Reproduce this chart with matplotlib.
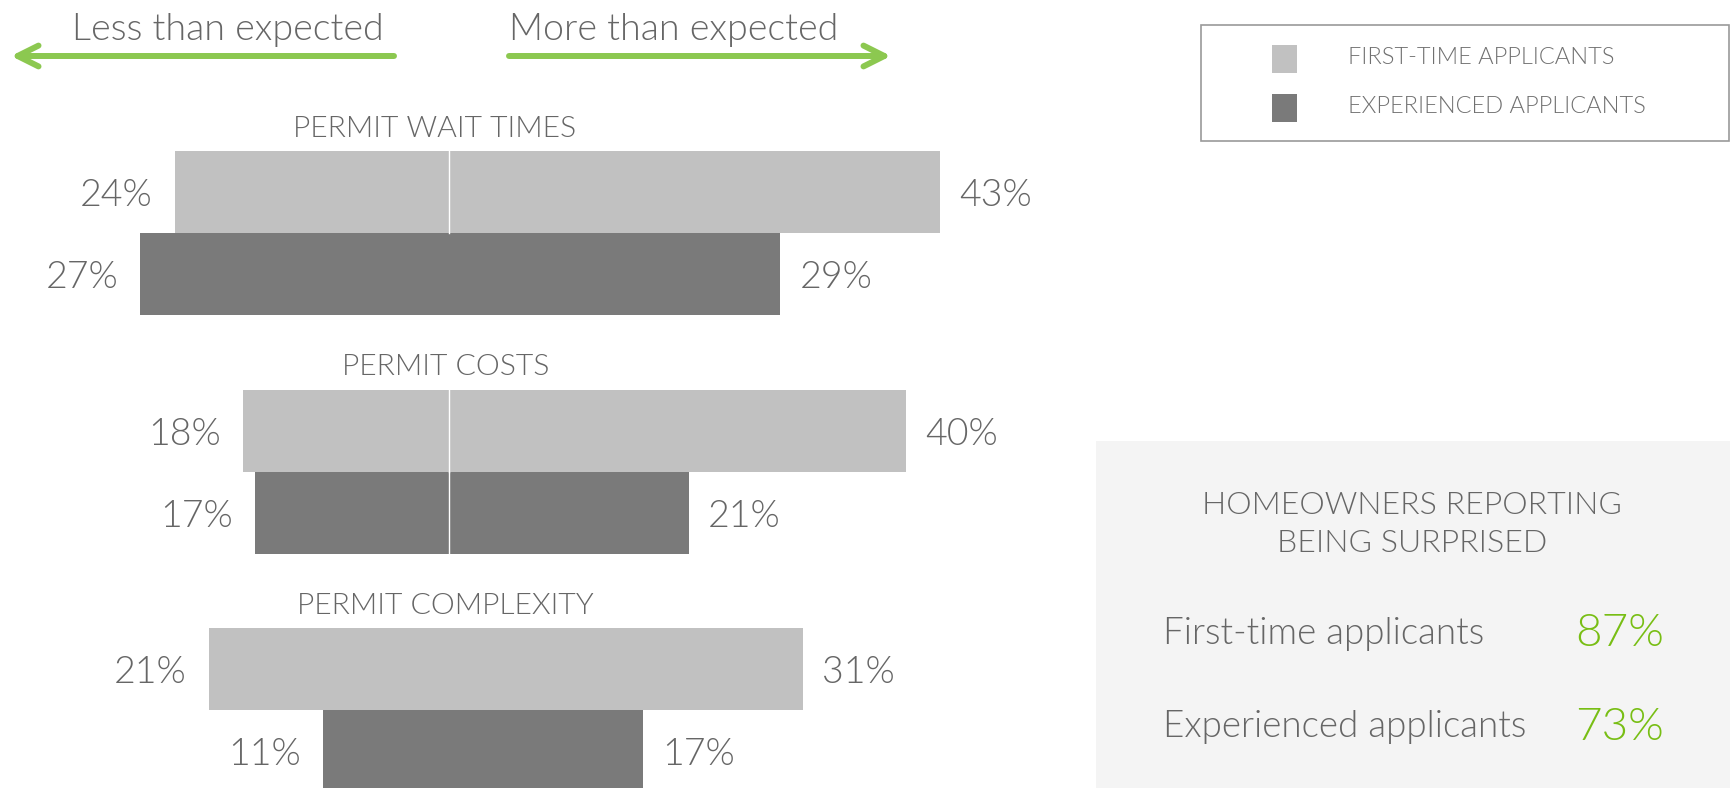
import matplotlib
matplotlib.use('Agg')
import matplotlib.pyplot as plt
from matplotlib.patches import Rectangle

# ---------------- data ----------------
categories = ['PERMIT WAIT TIMES', 'PERMIT COSTS', 'PERMIT COMPLEXITY']
first_less = [24, 18, 21]
first_more = [43, 40, 31]
exp_less = [27, 17, 11]
exp_more = [29, 21, 17]
series_labels = ['FIRST-TIME APPLICANTS', 'EXPERIENCED APPLICANTS']
direction_labels = ['Less than expected', 'More than expected']
panel_title = ['HOMEOWNERS REPORTING', 'BEING SURPRISED']
panel_groups = ['First-time applicants', 'Experienced applicants']
panel_values = [87, 73]

# ---------------- style ----------------
W, H = 1730, 788
LIGHT = '#c1c1c1'
DARK = '#7a7a7a'
TEXT = '#666666'
GREEN = '#8cc850'
GREEN2 = '#78be14'
FONT = ['Lato', 'DejaVu Sans']
plt.rcParams['font.family'] = FONT
LW = 300

fig = plt.figure(figsize=(W / 100, H / 100), dpi=100)

# overlay axes in pixel coordinates for decorations
ov = fig.add_axes([0, 0, 1, 1])
ov.set_xlim(0, W)
ov.set_ylim(H, 0)
ov.axis('off')

# right panel background
ov.add_patch(Rectangle((1096, 441), W - 1096, H - 441, facecolor='#f4f4f4', edgecolor='none'))

# legend box
ov.add_patch(Rectangle((1201, 25), 528, 116, facecolor='none', edgecolor='#9a9a9a', lw=1.2))
for (yy, col, lab) in zip([45, 94], [LIGHT, DARK], series_labels):
    ov.add_patch(Rectangle((1272, yy), 25, 28, facecolor=col, edgecolor='none'))
    ov.text(1348, yy + 12, lab, ha='left', va='center', fontsize=17,
            color='#707070', fontweight=LW)

# direction arrows
aprops = dict(arrowstyle='->,head_length=0.6,head_width=0.3', lw=4.3, color=GREEN,
              mutation_scale=25, shrinkA=0, shrinkB=0, capstyle='round', joinstyle='round')
ov.annotate('', xy=(11, 56), xytext=(394, 56), arrowprops=aprops)
ov.annotate('', xy=(891, 56), xytext=(509, 56), arrowprops=aprops)
ov.text(228, 30, direction_labels[0], ha='center', va='center', fontsize=27,
        color=TEXT, fontweight=LW)
ov.text(674, 30, direction_labels[1], ha='center', va='center', fontsize=27,
        color=TEXT, fontweight=LW)

# right panel texts
for yy, line in zip([505, 544], panel_title):
    ov.text(1412, yy, line, ha='center', va='center', fontsize=23,
            color=TEXT, fontweight=LW)
for yy, lab, val in zip([634, 727], panel_groups, panel_values):
    ov.text(1163, yy, lab, ha='left', va='center', fontsize=26.5, color=TEXT,
            fontweight=LW)
    ov.text(1664, yy, f'{val}%', ha='right', va='center', fontsize=33, color=GREEN2,
            fontweight=LW)

# ---------------- main bar axes ----------------
ax = fig.add_axes([0, 0, 1000 / W, 1])
ax.patch.set_alpha(0)
px_per_pct = 11.43
center_px = 449
ax.set_xlim(-center_px / px_per_pct, (1000 - center_px) / px_per_pct)
bar_px = 82
ax.set_ylim(H / bar_px, 0)
ax.axis('off')

group_tops = [151 / bar_px, 389.5 / bar_px, 628 / bar_px]
title_dx = [-1.3, -0.3, -0.3]
gap_l = 22 / px_per_pct
gap_r = 19 / px_per_pct
separators = [(0, 0), (1, 0), (1, 1)]

for i, cat in enumerate(categories):
    top = group_tops[i]
    ax.text(title_dx[i], top - 0.27, cat, ha='center', va='center', fontsize=21.7,
            color=TEXT, fontweight=LW)
    for j, (less, more, col) in enumerate([(first_less[i], first_more[i], LIGHT),
                                            (exp_less[i], exp_more[i], DARK)]):
        yc = top + 0.5 + j
        ax.barh(yc, -less, left=0, height=1, color=col, edgecolor='none')
        ax.barh(yc, more, left=0, height=1, color=col, edgecolor='none')
        if (i, j) in separators:
            ax.plot([0, 0], [yc - 0.5, yc + 0.5], color='white', lw=1)
        ax.text(-less - gap_l, yc + 0.05, f'{less}%', ha='right', va='center', fontsize=27,
                color=TEXT, fontweight=LW)
        ax.text(more + gap_r, yc + 0.05, f'{more}%', ha='left', va='center', fontsize=27,
                color=TEXT, fontweight=LW)

fig.savefig('out.png', dpi=100)
